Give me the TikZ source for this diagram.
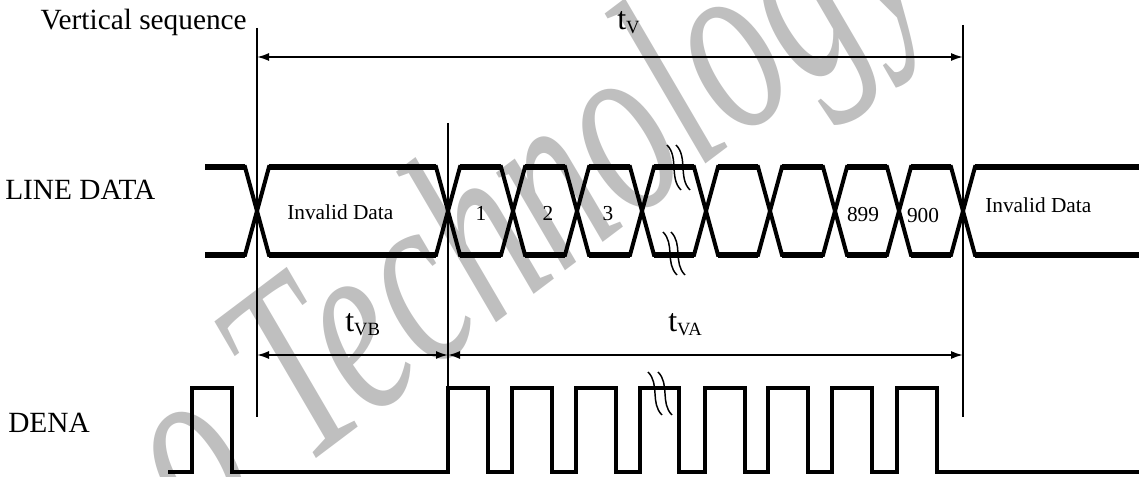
\documentclass[tikz,border=0pt]{standalone}
\usepackage{fontspec}
\setmainfont{Liberation Serif}
\usetikzlibrary{arrows.meta}
\newcommand\tlab[1]{{\fontsize{24}{24}\selectfont t}\raisebox{-2.5pt}{\fontsize{14}{14}\selectfont #1}}
\begin{document}
\begin{tikzpicture}[x=0.75pt,y=-0.75pt,
  wm/.style={text=gray!50, inner sep=0pt, font=\fontsize{130}{130}\selectfont\itshape},
  sig/.style={line width=3.0pt, line join=miter},
  rail/.style={line width=3.8pt},
  dena/.style={line width=3.4pt, line join=miter},
  vln/.style={line width=1.1pt},
  dim/.style={line width=1.3pt, {Latex[length=9pt,width=6pt]}-{Latex[length=9pt,width=6pt]}},
  brk/.style={line width=1.1pt},
  lbl/.style={inner sep=0pt, font=\fontsize{22}{26}\selectfont},
  sml/.style={inner sep=0pt, font=\fontsize{16}{19}\selectfont},
  tl/.style={inner sep=0pt, anchor=base west}]
\useasboundingbox (0,0) rectangle (1139,477);
% watermark
\node[wm, rotate=37, yscale=1.5, anchor=base west] (wmark) at (200,546) {o Technology};
% reference coordinates
\coordinate (L1t) at (257,28);  \coordinate (L1b) at (257,417);
\coordinate (L2t) at (448,123); \coordinate (L2b) at (448,388);
\coordinate (L3t) at (963,25);  \coordinate (L3b) at (963,417);
\coordinate (aV1) at (257,57);  \coordinate (aV2) at (963,57);
\coordinate (aB1) at (257,355); \coordinate (aB2) at (448,355);
\coordinate (aA1) at (448,355); \coordinate (aA2) at (963,355);
% vertical lines
\draw[vln] (L1t) -- (L1b);
\draw[vln] (L2t) -- (L2b);
\draw[vln] (L3t) -- (L3b);
% dimension arrows
\draw[dim] (aV1) -- (aV2);
\draw[dim] (aB1) -- (aB2);
\draw[dim] (aA1) -- (aA2);
% LINE DATA eye pattern
\draw[sig] (205,167) -- (245,167) -- (269,255) -- (436,255) -- (460,167) -- (501,167) -- (525,255) -- (565,255) -- (589,167) -- (630,167) -- (654,255) -- (694,255) -- (718,167) -- (758,167) -- (782,255) -- (823,255) -- (847,167) -- (887,167) -- (911,255) -- (951,255) -- (975,167) -- (1139,167);
\draw[sig] (205,255) -- (245,255) -- (269,167) -- (436,167) -- (460,255) -- (501,255) -- (525,167) -- (565,167) -- (589,255) -- (630,255) -- (654,167) -- (694,167) -- (718,255) -- (758,255) -- (782,167) -- (823,167) -- (847,255) -- (887,255) -- (911,167) -- (951,167) -- (975,255) -- (1139,255);
\foreach \a/\b in {205/245, 269/436, 460/501, 525/565, 589/630, 654/694, 718/758, 782/823, 847/887, 911/951, 975/1139}{
  \draw[rail] (\a,167) -- (\b,167);
  \draw[rail] (\a,255) -- (\b,255);
}
% DENA
\draw[dena] (168,472) -- (192,472) -- (192,388) -- (232,388) -- (232,472) -- (448,472) -- (448,388) -- (488,388) -- (488,472) -- (512,472) -- (512,388) -- (552,388) -- (552,472) -- (576,472) -- (576,388) -- (616,388) -- (616,472) -- (640,472) -- (640,388) -- (679,388) -- (679,472) -- (705,472) -- (705,388) -- (745,388) -- (745,472) -- (768,472) -- (768,388) -- (808,388) -- (808,472) -- (832,472) -- (832,388) -- (872,388) -- (872,472) -- (897,472) -- (897,388) -- (937,388) -- (937,472) -- (1139,472);
% break marks
\foreach \x/\ya/\yb in {667/145/190, 676/145/190, 663/232/275, 671/232/275, 648/372/415, 658/372/415}
  \draw[brk] (\x,\ya) .. controls (\x+12,\ya+12) and (\x+2,\yb-12) .. (\x+14,\yb);
% labels
\node[lbl, anchor=base east] (vs) at (247,30) {Vertical sequence};
\node[lbl, anchor=base west] (ld) at (5,200) {LINE DATA};
\node[lbl, anchor=base west] (dn) at (8,432) {DENA};
\node[sml, anchor=base west] (iv1) at (287,220) {Invalid Data};
\node[sml, anchor=base west] (iv2) at (985,213) {Invalid Data};
\node[sml, anchor=base] (d1) at (481,221) {1};
\node[sml, anchor=base] (d2) at (548,221) {2};
\node[sml, anchor=base] (d3) at (608,221) {3};
\node[sml, anchor=base] (d899) at (863,222) {899};
\node[sml, anchor=base] (d900) at (923,223) {900};
\node[tl] (tv) at (617,30) {\tlab{V}};
\node[tl] (tvb) at (345,332) {\tlab{VB}};
\node[tl] (tva) at (668,332) {\tlab{VA}};
\end{tikzpicture}
\end{document}
